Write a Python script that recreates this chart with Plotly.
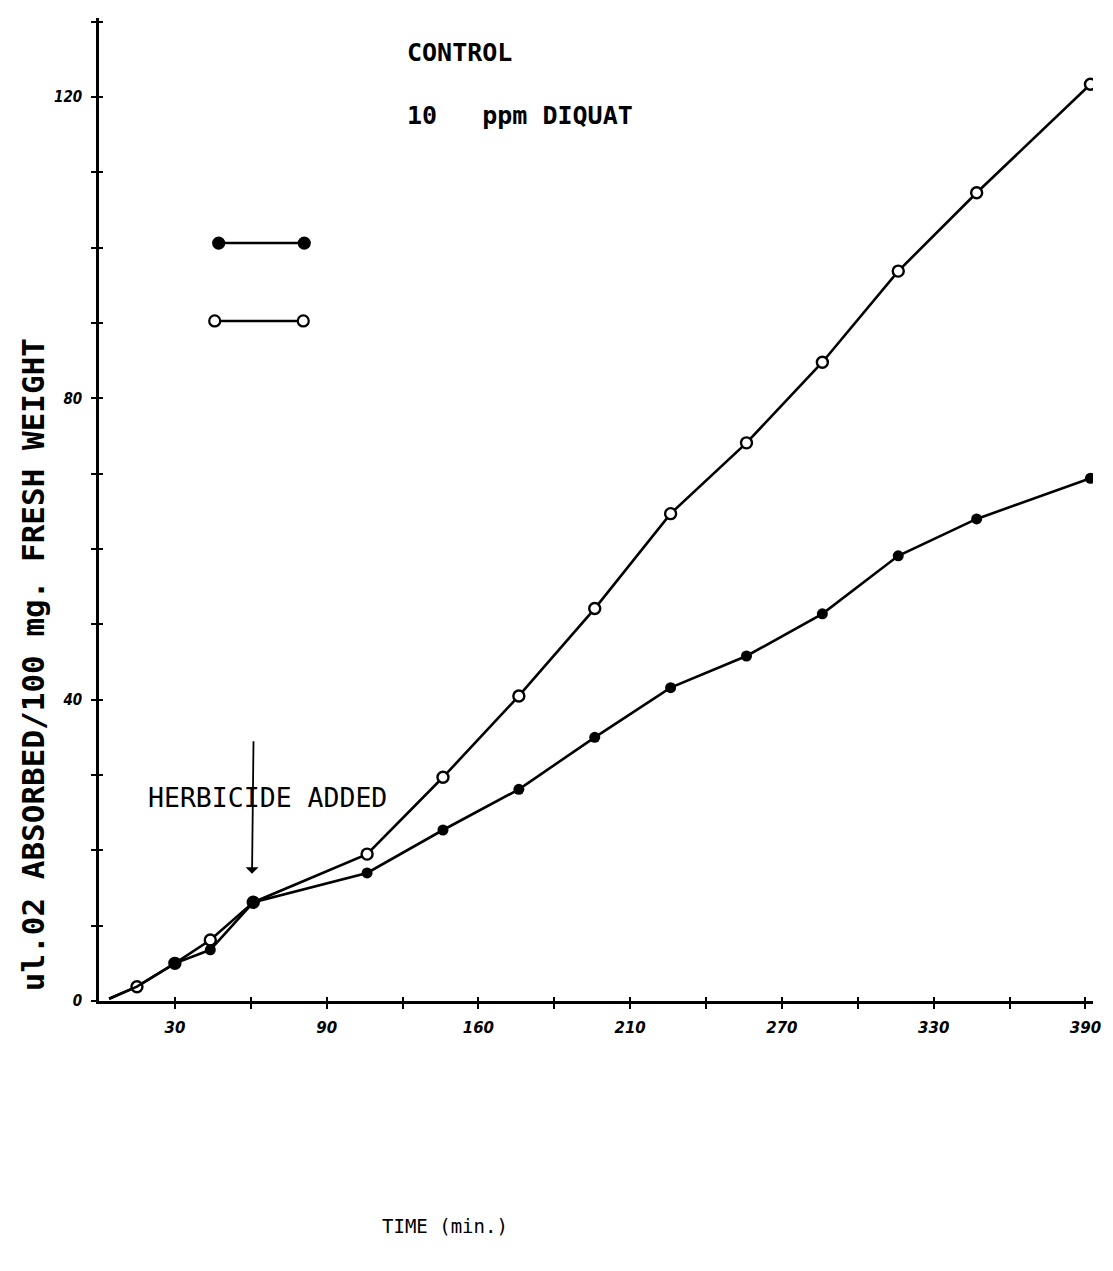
import plotly.graph_objects as go

# Oxygen uptake of leaf tissue, control vs. 10 ppm diquat
control_time = [4, 15, 30, 44, 61, 106, 136, 166, 196, 226, 256, 286, 316, 347, 392]
control_uptake = [0.3, 1.9, 5.0, 8.1, 13.1, 19.5, 29.7, 40.5, 52.1, 64.7, 74.1, 84.8, 96.9, 107.3, 121.7]
control_marker = [0, 11, 11, 11, 11, 11, 11, 11, 11, 11, 11, 11, 11, 11, 11]

diquat_time = [4, 15, 30, 44, 61, 106, 136, 166, 196, 226, 256, 286, 316, 347, 392]
diquat_uptake = [0.3, 1.9, 5.0, 6.8, 13.1, 17.0, 22.7, 28.1, 35.0, 41.6, 45.8, 51.4, 59.1, 64.0, 69.4]
diquat_marker = [0, 0, 11, 11, 11, 11, 11, 11, 11, 11, 11, 11, 11, 11, 11]

x_tick_vals = [30, 60, 90, 120, 150, 180, 210, 240, 270, 300, 330, 360, 390]
x_tick_text = ["30", "", "90", "", "160", "", "210", "", "270", "", "330", "", "390"]
y_tick_vals = [0, 10, 20, 30, 40, 50, 60, 70, 80, 90, 100, 110, 120, 130]
y_tick_text = ["0", "", "", "", "40", "", "", "", "80", "", "", "", "120", ""]

X_RANGE = [0, 393]
Y_RANGE = [0, 130.5]
INK = "black"
MONO = "DejaVu Sans Mono"
XTICKFONT = dict(family="DejaVu Sans", size=15, color=INK, weight="bold", style="italic")
YTICKFONT = dict(family="DejaVu Sans Condensed", size=15, color=INK, weight="bold", style="italic")

fig = go.Figure()

fig.add_trace(go.Scatter(
    x=control_time, y=control_uptake, mode="lines+markers", name="CONTROL",
    line=dict(color=INK, width=2.6),
    marker=dict(symbol="circle", size=control_marker, color="white", opacity=1,
                line=dict(color=INK, width=2.4)),
    showlegend=False, xaxis="x", yaxis="y",
))

# diquat series on an overlay axis pair with identical ranges (drawn on top)
fig.add_trace(go.Scatter(
    x=diquat_time, y=diquat_uptake, mode="lines+markers", name="10 ppm DIQUAT",
    line=dict(color=INK, width=2.6),
    marker=dict(symbol="circle", size=diquat_marker, color=INK, opacity=1,
                line=dict(color=INK, width=0)),
    showlegend=False, xaxis="x2", yaxis="y2",
))

axis_common = dict(showgrid=False, zeroline=False)

fig.update_layout(
    width=1113, height=1271,
    margin=dict(l=99, r=18, t=18, b=270),
    paper_bgcolor="white", plot_bgcolor="white",
    xaxis=dict(range=X_RANGE, tickmode="array", tickvals=x_tick_vals, ticktext=x_tick_text,
               ticks="outside", ticklen=5, tickwidth=2, tickcolor=INK,
               showline=True, linewidth=2.5, linecolor=INK,
               tickfont=XTICKFONT, ticklabelstandoff=6, **axis_common),
    yaxis=dict(range=Y_RANGE, tickmode="array", tickvals=y_tick_vals, ticktext=y_tick_text,
               ticks="outside", ticklen=5, tickwidth=2, tickcolor=INK,
               showline=True, linewidth=2.5, linecolor=INK,
               tickfont=YTICKFONT, ticklabelstandoff=6, **axis_common),
    xaxis2=dict(range=X_RANGE, overlaying="x", anchor="y2", tickmode="array",
                tickvals=x_tick_vals, ticks="inside", ticklen=4, tickwidth=2, tickcolor=INK,
                showticklabels=False, showline=False, **axis_common),
    yaxis2=dict(range=Y_RANGE, overlaying="y", anchor="x2", tickmode="array",
                tickvals=y_tick_vals, ticks="inside", ticklen=4, tickwidth=2, tickcolor=INK,
                showticklabels=False, showline=False, **axis_common),
)

NB = "\u00a0"
annotations = [
    dict(text="CONTROL", x=0.3077, y=0.965, xanchor="left", yanchor="middle",
         font=dict(family=MONO, size=25, color=INK, weight="bold")),
    dict(text=f"10{NB}{NB}{NB}ppm{NB}DIQUAT", x=0.3077, y=0.901, xanchor="left", yanchor="middle",
         font=dict(family=MONO, size=25, color=INK, weight="bold")),
    dict(text="HERBICIDE ADDED", x=0.170, y=0.2075, xanchor="center", yanchor="middle",
         font=dict(family=MONO, size=26.5, color=INK)),
    dict(text=f"ul.02{NB}ABSORBED/100{NB}mg.{NB}FRESH{NB}WEIGHT", x=-0.067, y=0.342,
         textangle=-90, xanchor="center", yanchor="middle",
         font=dict(family=MONO, size=31, color=INK, weight="bold")),
    dict(text="TIME (min.)", x=0.348, y=-0.229, xanchor="center", yanchor="middle",
         font=dict(family=MONO, size=19, color=INK)),
]
for a in annotations:
    a.update(xref="paper", yref="paper", showarrow=False)
    fig.add_annotation(**a)

# arrow marking the herbicide addition
fig.add_annotation(x=60.5, y=16.9, xref="x", yref="y", text="", showarrow=True,
                   ax=1.5, ay=-134, arrowhead=1, arrowsize=1.2, arrowwidth=1.8,
                   arrowcolor=INK)

# key symbols (filled and open line samples)
keys = [
    dict(y=0.771, x0=0.1204, x1=0.2065, fill=INK),
    dict(y=0.6918, x0=0.1164, x1=0.2055, fill="white"),
]
for k in keys:
    fig.add_shape(type="line", xref="paper", yref="paper", x0=k["x0"], x1=k["x1"],
                  y0=k["y"], y1=k["y"], line=dict(color=INK, width=2.5))
    for xa in (k["x0"], k["x1"]):
        fig.add_shape(type="circle", xref="paper", yref="paper",
                      xsizemode="pixel", ysizemode="pixel", xanchor=xa, yanchor=k["y"],
                      x0=-5.5, x1=5.5, y0=-5.5, y1=5.5,
                      fillcolor=k["fill"], line=dict(color=INK, width=2.2))

fig.write_html("out.html")
